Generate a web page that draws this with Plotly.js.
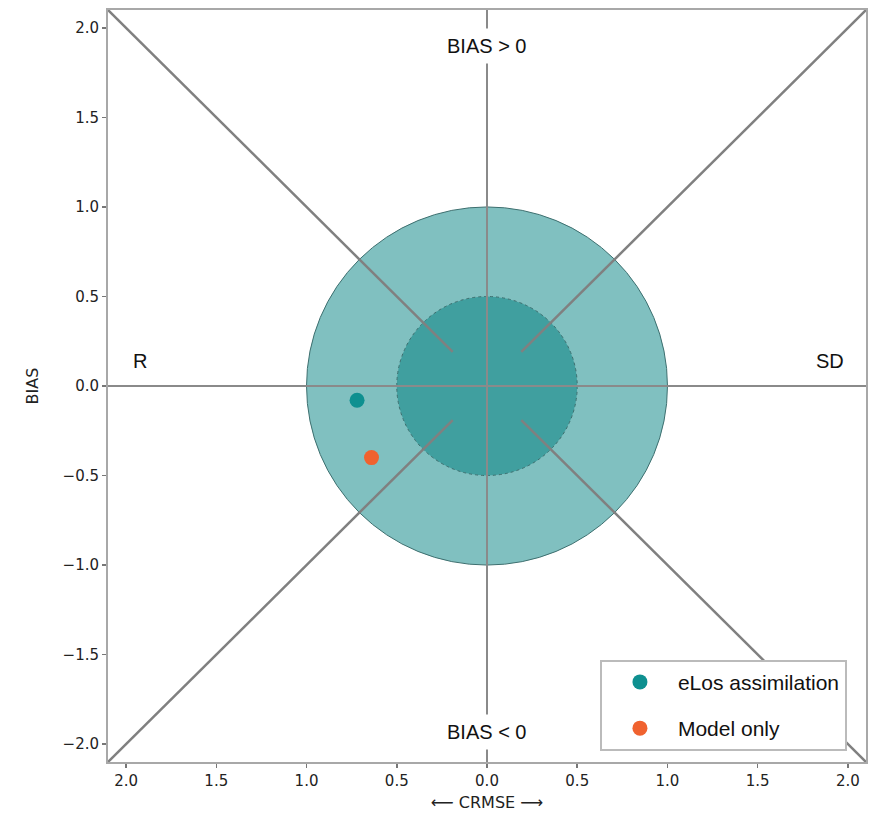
<!DOCTYPE html>
<html>
<head>
<meta charset="utf-8">
<script src="https://cdn.plot.ly/plotly-3.0.1.min.js"></script>
<style>html,body{margin:0;padding:0;background:#fff;}#chart{width:876px;height:815px;}</style>
</head>
<body>
<div id="chart"></div>
<script>
// Series (CRMSE signed on x: negative = R side, BIAS on y)
const seriesNames = ["eLos assimilation", "Model only"];
const seriesColors = ["#0e9090", "#f0622f"];
const crmseValues = [-0.72, -0.64];
const biasValues = [-0.08, -0.40];

// Ticks
const xTickVals = [-2, -1.5, -1, -0.5, 0, 0.5, 1, 1.5, 2];
const xTickText = ["2.0", "1.5", "1.0", "0.5", "0.0", "0.5", "1.0", "1.5", "2.0"];
const yTickVals = [-2, -1.5, -1, -0.5, 0, 0.5, 1, 1.5, 2];
const yTickText = ["\u22122.0", "\u22121.5", "\u22121.0", "\u22120.5", "0.0", "0.5", "1.0", "1.5", "2.0"];

// Target circles radii and reference lines
const circleRadii = [1.0, 0.5];
const circleFills = ["#80c0c0", "#409f9f"];
const axisLimit = 2.1;
const diagInner = 0.19;

// Labels
const labelTexts = ["BIAS > 0", "BIAS < 0", "R", "SD"];
const labelX = [0, 0, -1.92, 1.9];
const labelY = [1.9, -1.93, 0.14, 0.14];

const traces = seriesNames.map((n, i) => ({
  type: "scatter", mode: "markers", name: n, legendgroup: "g" + i,
  x: [crmseValues[i]], y: [biasValues[i]],
  marker: {color: seriesColors[i], size: 15, line: {width: 0}}
}));

const shapes = [];
circleRadii.forEach((r, i) => {
  shapes.push({type: "circle", xref: "x", yref: "y", x0: -r, x1: r, y0: -r, y1: r,
    fillcolor: circleFills[i], line: {color: "#3d6f6f", width: 1, dash: i === 1 ? "dot" : "solid"}, layer: "below"});
});
const L = axisLimit;
// axes cross lines
shapes.push({type: "line", x0: -L, x1: L, y0: 0, y1: 0, line: {color: "#8a8a8a", width: 2}, layer: "below"});
shapes.push({type: "line", x0: 0, x1: 0, y0: -L, y1: L, line: {color: "#8a8a8a", width: 2}, layer: "below"});
// diagonals
[[-1, 1], [1, 1], [-1, -1], [1, -1]].forEach(([sx, sy]) => {
  shapes.push({type: "line", x0: sx * L, y0: sy * L, x1: sx * diagInner, y1: sy * diagInner,
    line: {color: "#808080", width: 2.5}, layer: "below"});
});

const annotations = labelTexts.map((t, i) => ({
  x: labelX[i], y: labelY[i], text: t, showarrow: false,
  font: {family: "Liberation Sans, Arial", size: 20, color: "#111"},
  bgcolor: "#ffffff", borderpad: 6, xanchor: "center", yanchor: "middle"
}));

const axisCommon = {
  range: [-L, L], zeroline: false, showgrid: false,
  showline: true, mirror: true, linecolor: "#a8a8a8", linewidth: 2,
  ticks: "outside", ticklen: 4, tickwidth: 1.5, tickcolor: "#777",
  tickfont: {family: "DejaVu Sans", size: 15, color: "#222"}
};

const layout = {
  width: 876, height: 815,
  margin: {l: 108, r: 10, t: 10, b: 53},
  paper_bgcolor: "#fff", plot_bgcolor: "#fff",
  xaxis: Object.assign({}, axisCommon, {
    tickmode: "array", tickvals: xTickVals, ticktext: xTickText,
    title: {text: "\u27F5 CRMSE \u27F6", font: {family: "DejaVu Sans", size: 16, color: "#222"}, standoff: 8}
  }),
  yaxis: Object.assign({}, axisCommon, {
    tickmode: "array", tickvals: yTickVals, ticktext: yTickText,
    title: {text: "BIAS", font: {family: "DejaVu Sans", size: 16, color: "#222"}, standoff: 20}
  }),
  shapes: shapes,
  annotations: annotations,
  showlegend: true,
  legend: {x: 0.649, y: 0.136, xanchor: "left", yanchor: "top",
    bgcolor: "#fff", bordercolor: "#bbbbbb", borderwidth: 2,
    font: {family: "Liberation Sans, Arial", size: 21, color: "#111"},
    tracegroupgap: 16, itemwidth: 66, traceorder: "grouped"}
};

Plotly.newPlot("chart", traces, layout, {displayModeBar: false, staticPlot: true});
</script>
</body>
</html>
